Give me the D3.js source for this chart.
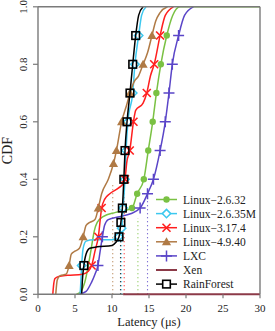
<!DOCTYPE html>
<html>
<head>
<meta charset="utf-8">
<script src="https://cdn.jsdelivr.net/npm/d3@7"></script>
<style>
  html, body { margin: 0; padding: 0; background: #fff; }
  svg text { font-family: "Liberation Serif", "Times New Roman", Times, "DejaVu Serif", serif; }
</style>
</head>
<body>
<svg id="chart" width="275" height="331"></svg>
<script>
// axis ticks
const latTicks = [0, 5, 10, 15, 20, 25, 30];
const cdfTicks = [0, 0.2, 0.4, 0.6, 0.8, 1.0];

// series: latency (us) and CDF
const g2632Lat = [5.2, 5.8, 6.3, 6.8, 7.2, 7.6, 8.0, 8.8, 10.5, 12.7, 13.4, 14.3, 14.9, 15.5, 16.0, 16.6, 17.4, 18.2, 19.2, 30];
const g2632Cdf = [0, 0.01, 0.04, 0.1, 0.16, 0.22, 0.25, 0.27, 0.285, 0.3, 0.35, 0.4, 0.5, 0.6, 0.7, 0.8, 0.9, 0.97, 1, 1];
const g2632Marks = [0.3, 0.35, 0.4, 0.5, 0.6, 0.7, 0.8, 0.9];

const m26235Lat = [5.7, 5.8, 5.9, 6.1, 6.5, 7.5, 10.0, 10.6, 10.9, 11.3, 11.5, 11.75, 11.9, 12.15, 12.8, 13.1, 13.6, 14.0, 14.6];
const m26235Cdf = [0, 0.05, 0.1, 0.16, 0.185, 0.19, 0.19, 0.195, 0.2, 0.23, 0.3, 0.4, 0.5, 0.6, 0.7, 0.8, 0.9, 0.97, 1];
const m26235Marks = [0.1, 0.2, 0.23, 0.3, 0.4, 0.5, 0.6, 0.7, 0.8, 0.9];

const l3174Lat = [2.0, 2.1, 2.3, 2.8, 4, 6, 6.8, 7.25, 7.7, 8.15, 8.6, 9.0, 9.7, 10.9, 11.5, 11.75, 12.0, 12.4, 12.9, 13.2, 14.2, 14.7, 15.2, 15.7, 16.5, 17.2, 18.3];
const l3174Cdf = [0, 0.03, 0.055, 0.062, 0.066, 0.07, 0.08, 0.1, 0.15, 0.2, 0.3, 0.33, 0.35, 0.37, 0.385, 0.4, 0.46, 0.5, 0.6, 0.64, 0.665, 0.7, 0.76, 0.8, 0.9, 0.97, 1];
const l3174Marks = [0.1, 0.2, 0.3, 0.4, 0.5, 0.6, 0.7, 0.8, 0.9];

const l4940Lat = [2.4, 2.6, 3.0, 3.8, 4.2, 4.5, 5.0, 5.6, 6.1, 6.5, 7.0, 7.7, 8.15, 8.6, 9.5, 10.2, 10.6, 11.3, 12.0, 12.43, 13.0, 13.6, 14.2, 14.8, 15.4, 15.9, 16.5, 17.5];
const l4940Cdf = [0, 0.05, 0.065, 0.07, 0.1, 0.14, 0.15, 0.16, 0.2, 0.24, 0.25, 0.26, 0.3, 0.35, 0.4, 0.455, 0.5, 0.6, 0.66, 0.7, 0.74, 0.76, 0.8, 0.84, 0.9, 0.95, 0.98, 1];
const l4940Marks = [0.1, 0.2, 0.3, 0.455, 0.5, 0.6, 0.7, 0.8, 0.9];

const lxcLat = [5.6, 6.5, 7.2, 7.7, 8.1, 8.4, 8.7, 9.0, 9.5, 11.0, 12.5, 13.8, 14.8, 15.6, 16.5, 17.2, 17.7, 18.15, 19.0, 19.8, 21.0];
const lxcCdf = [0, 0.01, 0.04, 0.07, 0.1, 0.15, 0.2, 0.24, 0.26, 0.27, 0.28, 0.3, 0.35, 0.4, 0.5, 0.6, 0.7, 0.8, 0.9, 0.97, 1];
const lxcMarks = [0.1, 0.2, 0.3, 0.35, 0.4, 0.5, 0.6, 0.7, 0.8, 0.9];

const xenLat = [11.5, 30];
const xenCdf = [0, 0];
const xenMarks = [];

const rfLat = [5.9, 6.0, 6.2, 6.5, 7.0, 8.0, 10.0, 10.5, 10.95, 11.2, 11.4, 11.6, 11.76, 12.03, 12.43, 12.8, 13.2, 13.6, 14.2];
const rfCdf = [0, 0.05, 0.1, 0.14, 0.16, 0.165, 0.17, 0.18, 0.2, 0.25, 0.3, 0.4, 0.5, 0.6, 0.7, 0.8, 0.9, 0.97, 1];
const rfMarks = [0.1, 0.2, 0.25, 0.3, 0.4, 0.5, 0.6, 0.7, 0.8, 0.9];

// dotted reference lines
const refLat = [10.1, 11.15, 11.3, 11.65, 13.5, 14.8];
const refTop = [0.39, 0.21, 0.22, 0.38, 0.265, 0.33];
const refSeries = ["Linux−4.9.40", "RainForest", "Linux−2.6.35M", "Linux−3.17.4", "Linux−2.6.32", "LXC"];

const series = [
  { name: "Linux−2.6.32", color: "#7ac143", shape: "dot", lat: g2632Lat, cdf: g2632Cdf, marks: g2632Marks },
  { name: "Linux−2.6.35M", color: "#3cc8ef", shape: "diamond", lat: m26235Lat, cdf: m26235Cdf, marks: m26235Marks },
  { name: "Linux−3.17.4", color: "#ff1f1f", shape: "cross", lat: l3174Lat, cdf: l3174Cdf, marks: l3174Marks },
  { name: "Linux−4.9.40", color: "#b07a45", shape: "triangle", lat: l4940Lat, cdf: l4940Cdf, marks: l4940Marks },
  { name: "LXC", color: "#5a45c8", shape: "plus", lat: lxcLat, cdf: lxcCdf, marks: lxcMarks },
  { name: "Xen", color: "#8c3a48", shape: "none", lat: xenLat, cdf: xenCdf, marks: xenMarks },
  { name: "RainForest", color: "#000000", shape: "square", lat: rfLat, cdf: rfCdf, marks: rfMarks },
];

const svg = d3.select("#chart");
const margin = { left: 38, top: 6.8, right: 15, bottom: 36.7 };
const W = 275, H = 331;

const x = d3.scaleLinear().domain([0, 30]).range([margin.left, W - margin.right]);
const y = d3.scaleLinear().domain([0, 1]).range([H - margin.bottom, margin.top]);

const frame = "#7a7a7a";

function drawMark(sel, shape, color, px, py) {
  if (shape === "dot") {
    sel.append("circle").attr("cx", px).attr("cy", py).attr("r", 3.2).attr("fill", color);
  } else if (shape === "diamond") {
    const s = 4.2;
    sel.append("path")
      .attr("d", `M${px},${py - s}L${px + s},${py}L${px},${py + s}L${px - s},${py}Z`)
      .attr("fill", "#fff").attr("stroke", color).attr("stroke-width", 1.5);
  } else if (shape === "cross") {
    const s = 4;
    sel.append("path")
      .attr("d", `M${px - s},${py - s}L${px + s},${py + s}M${px - s},${py + s}L${px + s},${py - s}`)
      .attr("stroke", color).attr("stroke-width", 1.6).attr("fill", "none");
  } else if (shape === "triangle") {
    const s = 4.6;
    sel.append("path")
      .attr("d", `M${px},${py - s}L${px + s},${py + s * 0.75}L${px - s},${py + s * 0.75}Z`)
      .attr("fill", color);
  } else if (shape === "plus") {
    const s = 5.5;
    sel.append("path")
      .attr("d", `M${px - s},${py}L${px + s},${py}M${px},${py - s}L${px},${py + s}`)
      .attr("stroke", color).attr("stroke-width", 1.5).attr("fill", "none");
  } else if (shape === "square") {
    const s = 3.8;
    sel.append("rect")
      .attr("x", px - s).attr("y", py - s).attr("width", 2 * s).attr("height", 2 * s)
      .attr("fill", "none").attr("stroke", color).attr("stroke-width", 1.6);
  }
}

// dotted lines
const colorOf = Object.fromEntries(series.map((s) => [s.name, s.color]));
svg.append("g").selectAll("line")
  .data(refLat.map((v, i) => ({ v, top: refTop[i], c: colorOf[refSeries[i]] })))
  .join("line")
  .attr("x1", (d) => x(d.v)).attr("x2", (d) => x(d.v))
  .attr("y1", y(0)).attr("y2", (d) => y(d.top))
  .attr("stroke", (d) => d.c)
  .attr("stroke-width", 1.1)
  .attr("stroke-dasharray", "1,3");

const line = d3.line()
  .x((d) => x(d[0]))
  .y((d) => y(d[1]))
  .curve(d3.curveMonotoneX);

const plot = svg.append("g");
series.forEach((s) => {
  const pts = s.lat.map((v, i) => [v, s.cdf[i]]);
  plot.append("path")
    .attr("d", line(pts))
    .attr("fill", "none")
    .attr("stroke", s.color)
    .attr("stroke-width", s.name === "Xen" ? 2 : 1.5);
  const mg = plot.append("g");
  s.marks.forEach((c) => {
    const p = pts.find((d) => Math.abs(d[1] - c) < 1e-9);
    if (p) drawMark(mg, s.shape, s.color, x(p[0]), y(p[1]));
  });
});

// frame
const fr = svg.append("g").attr("stroke", frame).attr("stroke-width", 1.4).attr("fill", "none");
fr.append("line").attr("x1", x(0)).attr("x2", x(0)).attr("y1", y(0)).attr("y2", y(1));
fr.append("line").attr("x1", x(0)).attr("x2", x(30)).attr("y1", y(1)).attr("y2", y(1));
fr.append("line").attr("x1", x(30)).attr("x2", x(30)).attr("y1", y(0)).attr("y2", y(1));
fr.append("line").attr("x1", x(0)).attr("x2", x(11.5)).attr("y1", y(0)).attr("y2", y(0));

// x axis
const xa = svg.append("g");
latTicks.forEach((t) => {
  xa.append("line").attr("x1", x(t)).attr("x2", x(t)).attr("y1", y(0)).attr("y2", y(0) + 4)
    .attr("stroke", frame).attr("stroke-width", 1.2);
  xa.append("text").attr("x", x(t)).attr("y", 312).attr("text-anchor", "middle")
    .attr("font-size", 11).attr("fill", "#222").text(t);
});
svg.append("text").attr("x", (x(0) + x(30)) / 2).attr("y", 326).attr("text-anchor", "middle")
  .attr("font-size", 12.5).attr("fill", "#222").text("Latency (μs)");

// y axis
const ya = svg.append("g");
cdfTicks.forEach((t) => {
  ya.append("line").attr("x1", x(0) - 5).attr("x2", x(0)).attr("y1", y(t)).attr("y2", y(t))
    .attr("stroke", frame).attr("stroke-width", 1.2);
  ya.append("text").attr("transform", `translate(27,${y(t)}) rotate(-90)`)
    .attr("text-anchor", "middle").attr("font-size", 11).attr("fill", "#222")
    .text(t.toFixed(1));
});
svg.append("text").attr("transform", `translate(12,${(y(0) + y(1)) / 2}) rotate(-90)`)
  .attr("text-anchor", "middle").attr("font-size", 14).attr("fill", "#222").text("CDF");

// legend
const lg = svg.append("g");
series.forEach((s, i) => {
  const ly = 199.5 + i * 14.1;
  lg.append("line").attr("x1", 156).attr("x2", 177).attr("y1", ly).attr("y2", ly)
    .attr("stroke", s.color).attr("stroke-width", s.name === "Xen" ? 2 : 1.5);
  drawMark(lg, s.shape, s.color, 166.5, ly);
  if (s.shape === "square") lg.select("rect:last-of-type").attr("fill", "#fff");
  lg.append("text").attr("x", 183).attr("y", ly + 4).attr("font-size", 11.5).attr("fill", "#222").text(s.name);
});
</script>
</body>
</html>
